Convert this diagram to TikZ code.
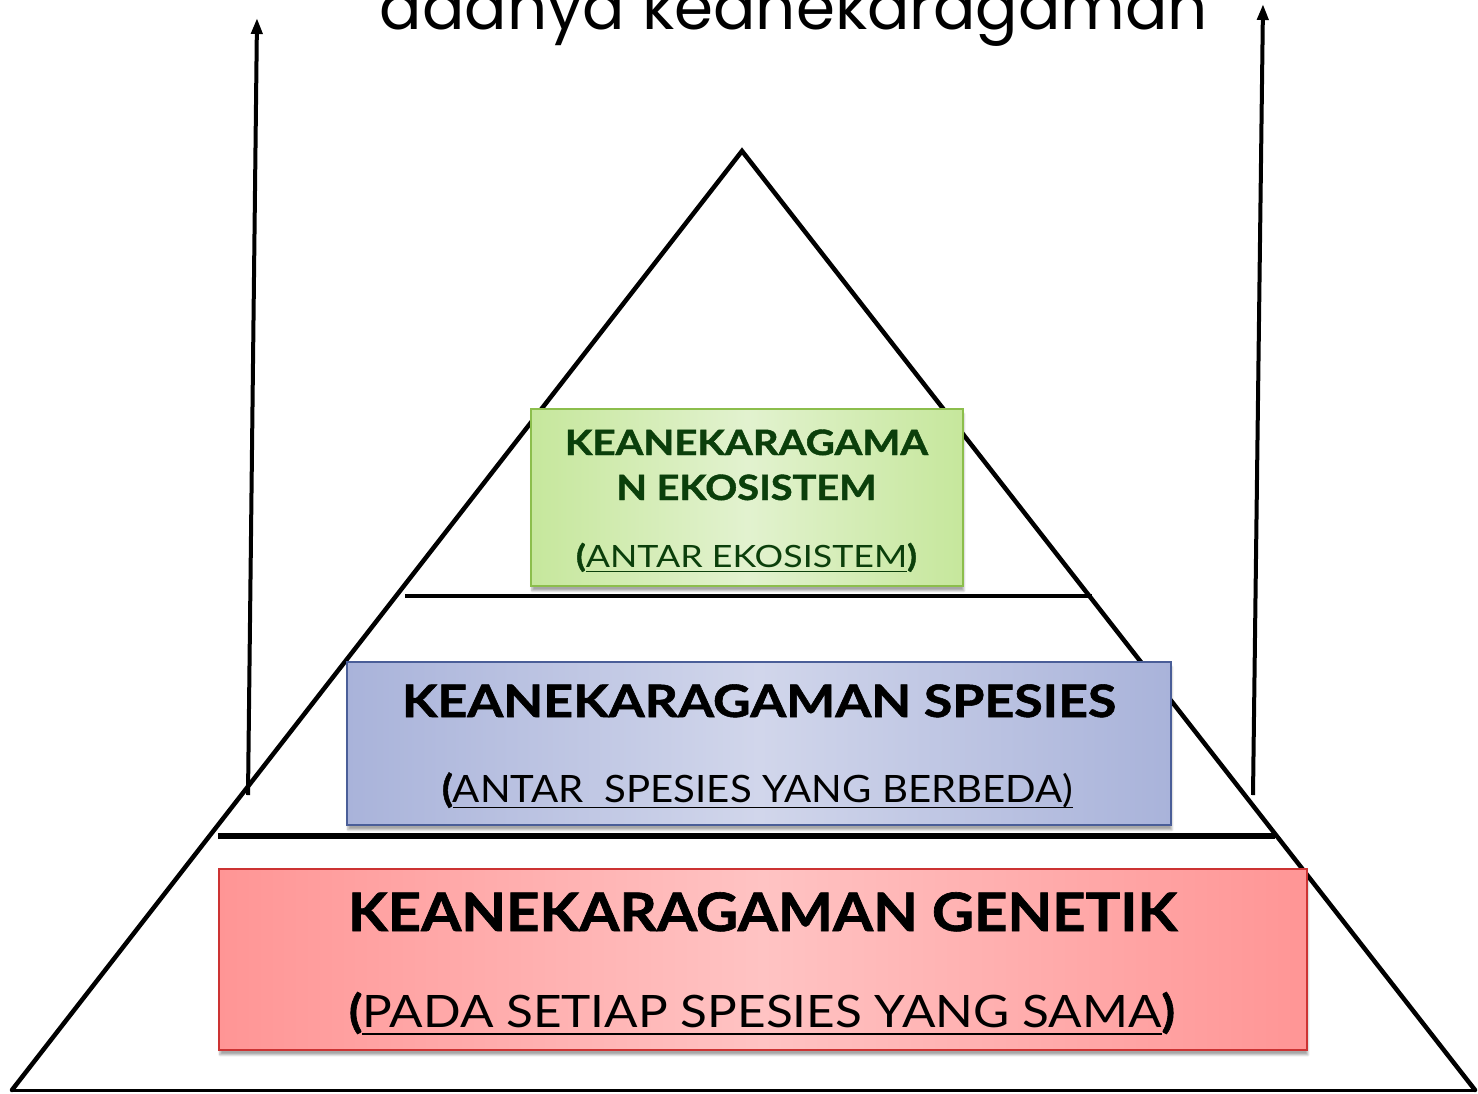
\documentclass[tikz,border=0pt]{standalone}
\usepackage{fontspec}
\usepackage{graphicx}
\setmainfont{Lato}[BoldFeatures={FakeBold=1.2}]
\newfontfamily\topfont{Poppins}
\usetikzlibrary{arrows.meta,shadows.blur}

\definecolor{grnE}{HTML}{C6E79C}
\definecolor{grnC}{HTML}{E2F2CF}
\definecolor{grnB}{HTML}{8CBE4C}
\definecolor{grnT}{HTML}{0B3F0B}
\definecolor{bluE}{HTML}{A9B3DA}
\definecolor{bluC}{HTML}{D1D6EB}
\definecolor{bluB}{HTML}{4A5E98}
\definecolor{redE}{HTML}{FF9595}
\definecolor{redC}{HTML}{FFC3C3}
\definecolor{redB}{HTML}{CC3333}

% width, cap height, text
\newcommand\fitline[3]{\resizebox{#1}{#2}{\setbox0\hbox{#3}\setbox2\hbox{H}\ht0=\ht2 \dp0=0pt \box0}}

\begin{document}
\begin{tikzpicture}[x=1pt,y=-1pt,
  edge/.style={line width=4.5pt, black, line cap=round},
  level/.style={line width=4.5pt, black},
  uparrow/.style={line width=4pt, black, -{Triangle[length=16pt,width=11pt]}},
  tier/.style={draw, line width=1.8pt, inner sep=0pt, anchor=north west,
    blur shadow={shadow xshift=1pt, shadow yshift=-5pt, shadow blur steps=6, shadow opacity=35}},
  txt/.style={inner sep=0pt, anchor=base},
]
\useasboundingbox (0,0) rectangle (1478,1093);
\clip (0,0) rectangle (1478,1093);

% title (cut at top, as in the reference)
\node[txt] (title) at (794,29) {\resizebox{828pt}{!}{\topfont adanya keanekaragaman}};

% pyramid
\coordinate (apex) at (742,151);
\coordinate (bl) at (12,1090);
\coordinate (br) at (1475,1090);
\draw[edge] (bl) -- (apex) -- (br);
\draw[line width=3pt] (bl) -- (br);

\coordinate (l1a) at (405,596);
\coordinate (l1b) at (1092,596);
\coordinate (l2a) at (218,836);
\coordinate (l2b) at (1275,836);
\draw[level] (l1a) -- (l1b);
\draw[level, line width=5.5pt] (l2a) -- (l2b);

% arrows
\coordinate (la0) at (248,795);
\coordinate (la1) at (257,18);
\coordinate (ra0) at (1253,795);
\coordinate (ra1) at (1263,4);
\draw[uparrow] (la0) -- (la1);
\draw[uparrow] (ra0) -- (ra1);

% boxes
\node[tier, draw=grnB, left color=grnE, right color=grnE, middle color=grnC,
  minimum width=432pt, minimum height=177pt] (eko) at (530,408) {};
\node[tier, draw=bluB, left color=bluE, right color=bluE, middle color=bluC,
  minimum width=824pt, minimum height=163pt] (spe) at (346,661) {};
\node[tier, draw=redB, left color=redE, right color=redE, middle color=redC,
  minimum width=1088pt, minimum height=181pt] (gen) at (218,868) {};

% texts
\node[txt, text=grnT] (eko1) at (746.5,455) {\fitline{363pt}{25pt}{\bfseries KEANEKARAGAMA}};
\node[txt, text=grnT] (eko2) at (746.5,500) {\fitline{260pt}{25pt}{\bfseries N EKOSISTEM}};
\node[txt, text=grnT] (eko3) at (746.5,567) {\fitline{341pt}{22pt}{\textbf{(}\underline{ANTAR EKOSISTEM}\textbf{)}}};

\node[txt] (spe1) at (759,717) {\fitline{714pt}{32pt}{\bfseries KEANEKARAGAMAN SPESIES}};
\node[txt] (spe2) at (757.5,802) {\fitline{631pt}{27pt}{\textbf{(}\underline{ANTAR\ \ SPESIES YANG BERBEDA\smash{)}}}};

\node[txt] (gen1) at (762.5,931) {\fitline{829pt}{38pt}{\bfseries KEANEKARAGAMAN GENETIK}};
\node[txt] (gen2) at (762,1027) {\fitline{826pt}{32pt}{\textbf{(}\underline{PADA SETIAP SPESIES YANG SAMA}\textbf{)}}};
\end{tikzpicture}
\end{document}
